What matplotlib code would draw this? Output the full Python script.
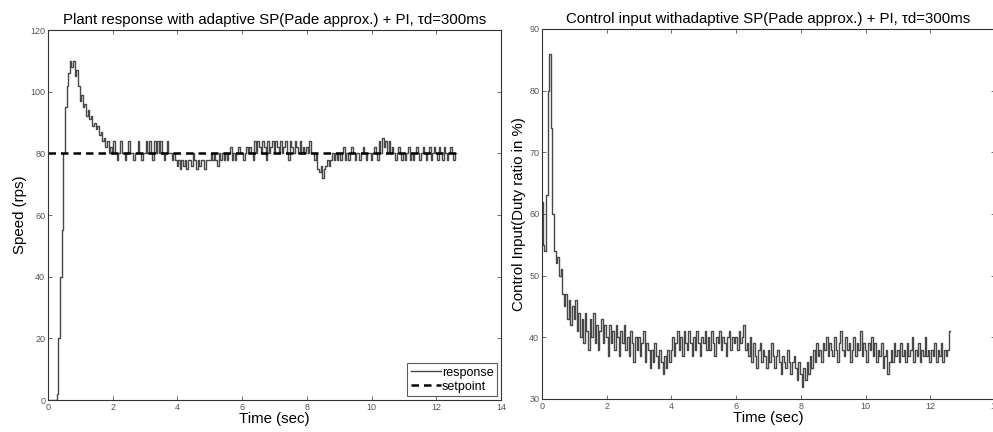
import numpy as np
import matplotlib
matplotlib.use("Agg")
import matplotlib.pyplot as plt

plt.rcParams['font.family'] = ['Liberation Sans', 'DejaVu Sans']

# Sample instants (s), 0.05 s step from 0 to 12.6 s
dt = 0.05
n_samples = 253
time_s = np.arange(n_samples) * dt

# Measured plant speed (rps)
speed_rps = [
    0, 0, 0, 0, 0, 0, 2, 20, 40, 55, 80, 95, 102, 106, 110, 108, 110, 105, 107, 102,
    97, 99, 95, 96, 92, 94, 91, 92, 89, 90, 88, 89, 86, 87, 84, 85, 82, 84, 80, 82,
    80, 84, 80, 78, 80, 84, 80, 80, 78, 80, 84, 80, 80, 78, 80, 80, 84, 80, 78, 80,
    80, 84, 80, 84, 80, 78, 84, 80, 84, 80, 84, 80, 78, 80, 84, 80, 80, 78, 80, 78,
    76, 78, 75, 78, 76, 78, 75, 78, 78, 76, 80, 78, 75, 78, 76, 78, 78, 75, 78, 78,
    78, 80, 78, 80, 78, 76, 80, 78, 80, 78, 80, 78, 80, 82, 78, 80, 78, 80, 82, 80,
    80, 78, 80, 82, 80, 82, 80, 78, 84, 80, 84, 82, 80, 84, 82, 78, 84, 80, 82, 84,
    80, 84, 82, 80, 84, 80, 82, 84, 80, 78, 84, 82, 80, 84, 82, 80, 84, 80, 82, 80,
    82, 80, 84, 80, 80, 78, 80, 75, 74, 76, 72, 75, 76, 78, 76, 78, 80, 78, 80, 78,
    80, 78, 80, 82, 78, 80, 78, 80, 82, 80, 78, 80, 80, 78, 80, 82, 80, 78, 80, 80,
    78, 80, 82, 80, 78, 84, 80, 85, 82, 84, 80, 84, 80, 82, 80, 78, 80, 82, 80, 78,
    80, 78, 80, 82, 78, 80, 78, 80, 82, 80, 78, 80, 82, 80, 78, 80, 82, 78, 80, 82,
    80, 78, 82, 80, 78, 82, 80, 78, 80, 82, 80, 78, 80,
]

setpoint_rps = 80

# Controller output (duty ratio, %)
duty_pct = [
    62, 55, 54, 63, 80, 86, 74, 60, 54, 52, 53, 50, 51, 47, 45, 47, 43, 46, 42, 45,
    43, 46, 41, 44, 40, 43, 39, 44, 41, 38, 43, 40, 44, 39, 42, 38, 41, 43, 39, 42,
    40, 37, 42, 39, 41, 38, 42, 40, 37, 41, 39, 42, 38, 40, 37, 41, 39, 36, 40, 38,
    40, 37, 39, 41, 36, 39, 38, 35, 38, 36, 39, 37, 35, 38, 36, 34, 37, 35, 38, 36,
    38, 40, 37, 39, 41, 38, 40, 37, 41, 39, 38, 41, 39, 37, 40, 38, 41, 39, 37, 40,
    39, 41, 38, 40, 38, 41, 39, 37, 40, 39, 41, 38, 40, 39, 37, 40, 41, 38, 40, 39,
    40, 38, 41, 39, 40, 42, 38, 39, 37, 40, 36, 39, 37, 35, 38, 39, 36, 38, 37, 35,
    38, 36, 39, 37, 35, 37, 38, 36, 34, 37, 36, 35, 38, 36, 34, 36, 37, 35, 33, 36,
    34, 32, 35, 33, 36, 34, 37, 35, 38, 36, 39, 37, 38, 36, 39, 38, 40, 37, 39, 38,
    37, 40, 38, 36, 39, 41, 38, 37, 40, 38, 39, 36, 38, 40, 37, 39, 38, 41, 37, 39,
    38, 36, 39, 38, 40, 37, 39, 36, 38, 37, 39, 35, 37, 38, 34, 36, 38, 36, 39, 37,
    38, 36, 39, 37, 38, 36, 39, 37, 38, 40, 36, 38, 37, 39, 36, 38, 37, 40, 37, 38,
    36, 38, 37, 39, 36, 38, 37, 39, 36, 38, 37, 38, 41,
]

x_ticks = [0, 2, 4, 6, 8, 10, 12, 14]
speed_ticks = [0, 20, 40, 60, 80, 100, 120]
duty_ticks = [30, 40, 50, 60, 70, 80, 90]

fig = plt.figure(figsize=(9.93, 4.32), dpi=100)
ax1 = fig.add_axes([0.0483, 0.074, 0.4562, 0.8565])
ax2 = fig.add_axes([0.5458, 0.0764, 0.4562, 0.8566])

line_col = '#484848'


def style_axes(ax):
    ax.tick_params(direction='in', top=True, right=True, length=3, width=0.6,
                   labelsize=6.5, colors='#555555', pad=2)
    for sp in ax.spines.values():
        sp.set_linewidth(0.8)
        sp.set_color('#333333')
    ax.set_xlim(0, 14)
    ax.set_xticks(x_ticks)


# Left: plant speed response
ax1.plot(time_s, speed_rps, color=line_col, lw=1.0, drawstyle='steps-mid',
         label='response')
ax1.plot([time_s[0], time_s[-1]], [setpoint_rps, setpoint_rps], color='black',
         lw=1.8, ls=(0, (3, 2)), label='setpoint')
style_axes(ax1)
ax1.set_ylim(0, 120)
ax1.set_yticks(speed_ticks)
ax1.set_title('Plant response with adaptive SP(Pade approx.) + PI, \u03c4d=300ms',
              fontsize=10.8, pad=4)
ax1.set_xlabel('Time (sec)', fontsize=10.8, labelpad=0)
ax1.set_ylabel('Speed (rps)', fontsize=10.8, labelpad=2)
leg = ax1.legend(loc='lower right', fontsize=9, frameon=True, fancybox=False,
                 handlelength=2.4, handletextpad=0.1, borderpad=0.3,
                 labelspacing=0.15, borderaxespad=0.3)
leg.get_frame().set_edgecolor('#333333')
leg.get_frame().set_linewidth(0.8)

# Right: control input
ax2.plot(time_s, duty_pct, color=line_col, lw=1.0, drawstyle='steps-mid')
style_axes(ax2)
ax2.set_ylim(30, 90)
ax2.set_yticks(duty_ticks)
ax2.set_title('Control input withadaptive SP(Pade approx.) + PI, \u03c4d=300ms',
              fontsize=10.8, pad=4)
ax2.set_xlabel('Time (sec)', fontsize=10.8, labelpad=0)
ax2.set_ylabel('Control Input(Duty ratio in %)', fontsize=10.8, labelpad=2)

fig.savefig('out.png', dpi=100)
